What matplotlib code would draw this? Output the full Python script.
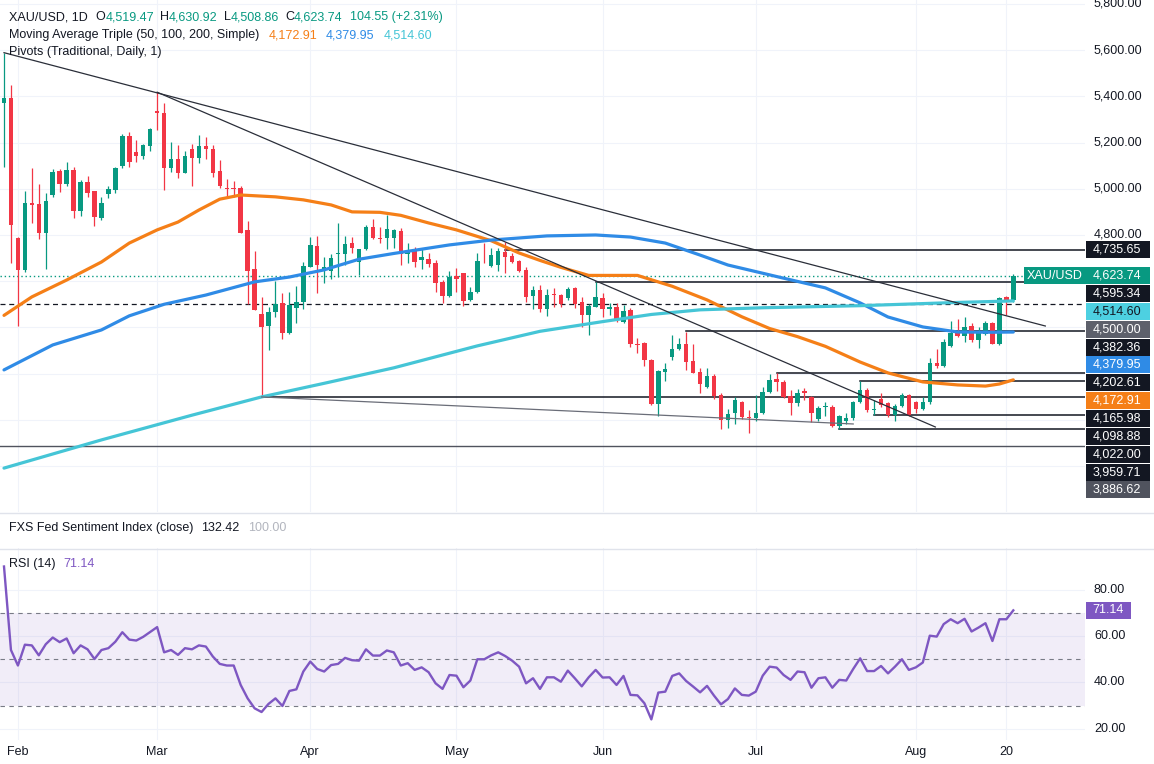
import matplotlib
matplotlib.use('Agg')
import matplotlib.pyplot as plt
import matplotlib.transforms as mtransforms
from matplotlib.patches import Rectangle
from matplotlib.lines import Line2D
import numpy as np
import pandas as pd

plt.rcParams['font.family'] = ['Liberation Sans', 'DejaVu Sans']

# ---------------- data ----------------
first_day = '2026-01-29'
last_day = '2026-08-21'
market_holidays = ['2026-04-03']
extra_tick_day = '2026-08-20'

opens = [5371, 5393, 4787, 4648, 4939, 4934, 4809, 4973, 5077, 5021,
         5081, 4904, 5029, 4990, 4874, 4977, 4995, 5099, 5229, 5159,
         5142, 5185, 5337, 5328, 5090, 5129, 5068, 5172, 5133, 5183,
         5171, 5077, 5003, 5002, 5002, 4822, 4651, 4458, 4407, 4467,
         4504, 4374, 4485, 4508, 4663, 4753, 4645, 4645, 4717, 4717,
         4764, 4682, 4738, 4834, 4788, 4786, 4786, 4819, 4718, 4738,
         4692, 4695, 4680, 4598, 4536, 4623, 4637, 4519, 4554, 4685,
         4666, 4671, 4728, 4709, 4688, 4649, 4536, 4562, 4478, 4543,
         4540, 4526, 4569, 4512, 4454, 4489, 4526, 4478, 4489, 4425,
         4475, 4328, 4331, 4259, 4068, 4208, 4271, 4305, 4328, 4256,
         4208, 4141, 4190, 4107, 3999, 4029, 4078, 4014, 4007, 4031,
         4122, 4175, 4165, 4103, 4074, 4125, 4100, 4002, 4054, 4057,
         3974, 3997, 4009, 4078, 4129, 4042, 4090, 4072, 4021, 4060,
         4107, 4078, 4046, 4075, 4244, 4233, 4320, 4385, 4363, 4406,
         4345, 4372, 4418, 4330, 4530, 4519.47]
highs = [5588, 5449, 4790, 4990, 5090, 5021, 4982, 5086, 5086, 5116,
         5094, 5038, 5055, 4990, 4965, 5012, 5094, 5237, 5246, 5211,
         5194, 5263, 5418, 5371, 5203, 5190, 5164, 5194, 5233, 5226,
         5190, 5125, 5042, 5034, 5012, 4862, 4732, 4533, 4490, 4602,
         4548, 4552, 4579, 4684, 4790, 4796, 4706, 4718, 4853, 4796,
         4793, 4740, 4843, 4868, 4836, 4887, 4825, 4829, 4767, 4749,
         4742, 4723, 4692, 4605, 4646, 4656, 4637, 4576, 4721, 4764,
         4742, 4742, 4771, 4721, 4692, 4663, 4580, 4584, 4565, 4569,
         4545, 4574, 4574, 4533, 4502, 4595, 4548, 4504, 4504, 4497,
         4483, 4353, 4338, 4262, 4216, 4244, 4367, 4353, 4382, 4328,
         4223, 4223, 4198, 4115, 4045, 4097, 4083, 4042, 4107, 4144,
         4198, 4202, 4172, 4129, 4132, 4137, 4104, 4060, 4078, 4064,
         4020, 4031, 4083, 4166, 4137, 4086, 4115, 4078, 4068, 4118,
         4112, 4083, 4100, 4266, 4305, 4348, 4429, 4435, 4444, 4420,
         4403, 4429, 4425, 4532, 4536, 4630.92]
lows = [5094, 4679, 4406, 4640, 4852, 4783, 4653, 4964, 4986, 5012,
        4874, 4883, 4964, 4839, 4865, 4960, 4982, 5090, 5094, 5116,
        5129, 5164, 5254, 4995, 5073, 5047, 5068, 5012, 5112, 5129,
        5052, 5003, 4966, 4966, 4807, 4501, 4475, 4099, 4302, 4446,
        4348, 4372, 4418, 4478, 4660, 4548, 4593, 4609, 4619, 4670,
        4721, 4627, 4736, 4781, 4767, 4738, 4742, 4670, 4678, 4663,
        4653, 4663, 4554, 4505, 4533, 4554, 4493, 4516, 4548, 4678,
        4663, 4646, 4637, 4678, 4641, 4512, 4478, 4468, 4450, 4489,
        4489, 4519, 4484, 4400, 4367, 4487, 4446, 4454, 4425, 4418,
        4314, 4288, 4233, 4064, 4018, 4169, 4259, 4302, 4216, 4201,
        4117, 4137, 4089, 3962, 3963, 3982, 4003, 3942, 3995, 4025,
        4118, 4126, 4094, 4020, 4059, 4086, 3990, 3995, 4016, 3970,
        3960, 3982, 3999, 4074, 4035, 4022, 4055, 4014, 3995, 4057,
        4016, 4029, 4042, 4068, 4223, 4230, 4317, 4357, 4338, 4338,
        4311, 4367, 4328, 4325, 4455, 4508.86]
closes = [5393, 4843, 4648, 4939, 4930, 4809, 4947, 5073, 5021, 5081,
          4904, 5029, 4982, 4878, 4939, 4999, 5090, 5229, 5116, 5142,
          5190, 5259, 5328, 5090, 5129, 5068, 5142, 5133, 5185, 5172,
          5070, 5012, 5001, 5000, 4810, 4645, 4475, 4403, 4467, 4502,
          4377, 4497, 4508, 4665, 4757, 4671, 4660, 4702, 4721, 4760,
          4742, 4738, 4836, 4786, 4784, 4825, 4820, 4718, 4732, 4685,
          4703, 4674, 4591, 4536, 4617, 4608, 4516, 4554, 4688, 4681,
          4714, 4732, 4706, 4685, 4645, 4533, 4562, 4478, 4540, 4540,
          4501, 4565, 4502, 4454, 4493, 4533, 4478, 4487, 4432, 4472,
          4328, 4324, 4259, 4068, 4213, 4218, 4305, 4328, 4252, 4204,
          4155, 4190, 4103, 3999, 4025, 4086, 4011, 4007, 4029, 4122,
          4172, 4165, 4098, 4071, 4118, 4118, 4029, 4050, 4060, 3974,
          4016, 4007, 4078, 4129, 4042, 4046, 4066, 4021, 4060, 4107,
          4021, 4046, 4075, 4244, 4233, 4338, 4377, 4363, 4400, 4345,
          4382, 4418, 4328, 4527, 4519.19, 4623.74]

rsi = [90.1, 54.0, 47.3, 56.3, 56.0, 51.7, 56.5, 59.4, 57.4, 59.0,
       52.6, 56.0, 54.3, 50.1, 54.0, 54.8, 57.6, 61.7, 58.5, 58.1,
       59.7, 61.8, 63.9, 53.0, 54.0, 51.9, 54.8, 54.3, 56.0, 55.5,
       51.2, 48.0, 47.3, 47.3, 38.9, 33.1, 28.8, 27.2, 30.7, 33.1,
       29.8, 36.3, 37.0, 44.7, 49.0, 45.8, 44.7, 47.5, 48.0, 50.6,
       49.6, 49.4, 54.3, 51.6, 51.6, 53.8, 53.0, 47.3, 48.3, 45.4,
       46.5, 44.4, 39.6, 37.2, 43.2, 42.9, 37.9, 40.8, 50.0, 50.0,
       51.7, 53.0, 51.4, 49.4, 46.8, 39.6, 41.8, 37.2, 42.2, 42.2,
       40.3, 45.1, 41.8, 38.3, 42.2, 45.4, 42.1, 42.2, 38.9, 42.8,
       34.6, 34.4, 31.0, 24.0, 35.6, 36.0, 42.8, 43.9, 40.6, 38.2,
       35.7, 38.5, 34.3, 30.5, 32.8, 37.4, 34.6, 34.3, 36.0, 42.9,
       46.8, 46.4, 43.2, 41.1, 44.7, 44.4, 37.7, 41.8, 42.2, 37.7,
       41.1, 40.8, 45.8, 50.4, 44.9, 44.9, 47.1, 43.9, 46.8, 50.0,
       45.4, 46.5, 48.6, 60.2, 59.8, 65.2, 67.3, 65.6, 67.5, 62.0,
       63.7, 65.6, 57.9, 67.3, 67.3, 71.14]

# moving averages, sampled at candle numbers
ma50_x = [0, 4, 9, 14, 18, 22, 25, 28, 31, 34, 39, 43, 47, 50, 54, 57, 61, 65, 70, 74,
          77, 80, 84, 91, 96, 101, 106, 110, 114, 118, 123, 127, 132, 137, 141, 143, 145]
ma50_y = [4452, 4532, 4605, 4683, 4765, 4822, 4856, 4908, 4955, 4973, 4965, 4952, 4930, 4900,
          4898, 4885, 4852, 4822, 4775, 4722, 4690, 4660, 4625, 4625, 4578, 4519, 4446, 4395,
          4360, 4318, 4250, 4203, 4164, 4151, 4146, 4155, 4172.91]
ma100_x = [0, 7, 14, 18, 23, 29, 36, 41, 46, 51, 56, 64, 70, 78, 85, 90, 95, 100, 104, 112,
           118, 123, 127, 132, 137, 142, 145]
ma100_y = [4216, 4324, 4389, 4450, 4500, 4540, 4597, 4618, 4649, 4695, 4720, 4757, 4778, 4796,
           4800, 4791, 4765, 4713, 4670, 4613, 4571, 4506, 4445, 4402, 4380, 4379, 4379.95]
ma200_x = [0, 14, 27, 37, 46, 56, 68, 77, 86, 93, 100, 109, 123, 137, 145]
ma200_y = [3791, 3913, 4020, 4099, 4158, 4225, 4320, 4383, 4425, 4456, 4476, 4485, 4494, 4508, 4514.6]

# trend lines: (start candle, start price, end candle, end price)
trend_lines = [(0, 5589, 149.6, 4406),
               (22, 5418, 133.8, 3969),
               (37, 4099, 122, 3982)]

# horizontal levels drawn from a candle to the right edge
level_prices = [4735.65, 4595.34, 4382.36, 4202.61, 4165.98, 4098.88, 4022.00, 3959.71]
level_start = [72, 85, 98, 111, 123, 37, 125, 120]
round_level = 4500.00
bottom_level = 3886.62
last_price = 4623.74

scale_prices = [4735.65, 4623.74, 4595.34, 4514.60, 4500.00, 4382.36, 4379.95,
                4202.61, 4172.91, 4165.98, 4098.88, 4022.00, 3959.71, 3886.62]
price_ticks = [3800, 4000, 4200, 4400, 4600, 4800, 5000, 5200, 5400, 5600, 5800]
rsi_ticks = [20, 40, 60, 80]

# ---------------- styles ----------------
DARK = '#131722'
UP, DOWN = '#089981', '#f23645'
C50, C100, C200 = '#f57f17', '#2f8be6', '#45c5d6'
PURPLE = '#7e57c2'
GRID = '#f0f3fa'
scale_box = [DARK, UP, DARK, '#4dd0e1', '#5d606b', DARK, C100,
             DARK, C50, DARK, DARK, DARK, DARK, '#50535e']
scale_txt = ['white', 'white', 'white', DARK, 'white', 'white', 'white',
             'white', 'white', 'white', 'white', 'white', 'white', 'white']
FS = 9

dates = pd.bdate_range(first_day, last_day).drop(pd.to_datetime(market_holidays))
idx = np.arange(len(opens))
tick_pos = [i for i in range(1, len(dates)) if dates[i].month != dates[i - 1].month]
tick_lab = [dates[i].strftime('%b') for i in tick_pos]
tick_pos.append(int(dates.get_loc(pd.Timestamp(extra_tick_day))))
tick_lab.append(str(pd.Timestamp(extra_tick_day).day))

W, H = 1154, 764
fig = plt.figure(figsize=(W / 100, H / 100), dpi=100)
fig.patch.set_facecolor('white')


def px_box(x0, y0, x1, y1):
    return [x0 / W, 1 - y1 / H, (x1 - x0) / W, (y1 - y0) / H]


ax = fig.add_axes(px_box(0, 0, 1085, 512))
sc = fig.add_axes(px_box(1085, 0, 1154, 512))
ax_r = fig.add_axes(px_box(0, 548, 1085, 740))
sc_r = fig.add_axes(px_box(1085, 548, 1154, 740))

p_lo, p_hi = 3601, 5817
r_lo, r_hi = 15.1, 98.1
x_lo, x_hi = -0.575, 155.3

for a in (ax, sc, ax_r, sc_r):
    for s in a.spines.values():
        s.set_visible(False)
    a.tick_params(length=0)
    a.set_facecolor('none')

ax.set_xlim(x_lo, x_hi)
ax.set_ylim(p_lo, p_hi)
ax_r.set_xlim(x_lo, x_hi)
ax_r.set_ylim(r_lo, r_hi)
sc.set_xlim(0, 69)
sc.set_ylim(p_lo, p_hi)
sc_r.set_xlim(0, 69)
sc_r.set_ylim(r_lo, r_hi)
sc.set_xticks([]); sc.set_yticks([])
sc_r.set_xticks([]); sc_r.set_yticks([])

# grids
ax.set_xticks(tick_pos)
ax.set_yticks(price_ticks)
ax.tick_params(labelbottom=False, labelleft=False)
ax.grid(color=GRID, lw=0.8)
ax.set_axisbelow(True)
ax_r.set_xticks(tick_pos)
ax_r.set_xticklabels(tick_lab)
ax_r.set_yticks(rsi_ticks)
ax_r.tick_params(axis='x', labelsize=FS, labelcolor=DARK, pad=4)
ax_r.tick_params(axis='y', labelleft=False)
ax_r.grid(color=GRID, lw=0.8)
ax_r.set_axisbelow(True)

# ---------------- price panel ----------------
o = np.array(opens); h = np.array(highs); l = np.array(lows); c = np.array(closes)
cols = np.where(c >= o, UP, DOWN)
ax.vlines(idx, l, h, colors=cols, lw=0.9, zorder=3)
ax.bar(idx, np.maximum(np.abs(c - o), 4), bottom=np.minimum(o, c), width=0.64,
       color=cols, lw=0, zorder=4)

for x0, y0, x1, y1 in trend_lines[:2]:
    ax.plot([x0, x1], [y0, y1], color='#2a2e39', lw=0.9, zorder=6)
x0, y0, x1, y1 = trend_lines[2]
ax.plot([x0, x1], [y0, y1], color='#6a6d78', lw=0.9, zorder=6)

for p, s in zip(level_prices, level_start):
    ax.plot([s, x_hi], [p, p], color=DARK, lw=1.1, zorder=2)
ax.axhline(round_level, color=DARK, lw=0.9, ls=(0, (4, 3)), zorder=2)
ax.axhline(bottom_level, color='#50535e', lw=1.0, zorder=2)
ax.axhline(last_price, color=UP, lw=1.0, ls=(0, (1, 2)), zorder=2)

ax.plot(ma50_x, ma50_y, color=C50, lw=2.3, zorder=5, solid_capstyle='round')
ax.plot(ma100_x, ma100_y, color=C100, lw=2.3, zorder=5, solid_capstyle='round')
ax.plot(ma200_x, ma200_y, color=C200, lw=2.3, zorder=5, solid_capstyle='round')

tr = mtransforms.blended_transform_factory(ax.transAxes, ax.transData)
ax.text(1083 / 1085, last_price, 'XAU/USD', transform=tr, ha='right', va='center',
        color='white', fontsize=FS, zorder=8,
        bbox=dict(boxstyle='square,pad=0.22', fc=UP, ec='none'))

# price scale labels, stacked so they do not overlap
ppx = 512 / (p_hi - p_lo)
step = 17.85 / ppx
half = 8.5 / ppx
prev = np.inf
label_ys = []
for p, fc, tc in zip(scale_prices, scale_box, scale_txt):
    y = min(p, prev - step)
    prev = y
    label_ys.append(y)
    sc.add_patch(Rectangle((1, y - half), 64, 2 * half, fc=fc, ec='none', zorder=3))
    sc.text(8, y, f'{p:,.2f}', color=tc, fontsize=FS, va='center', ha='left', zorder=4)
for t in price_ticks:
    if min(abs(t - y) for y in label_ys) * ppx > 13:
        sc.text(9, t, f'{t:,.2f}', color=DARK, fontsize=FS, va='center', ha='left', zorder=1)

# ---------------- RSI panel ----------------
ax_r.axhspan(30, 70, color=PURPLE, alpha=0.1, lw=0, zorder=1)
for lvl in (70, 50, 30):
    ax_r.axhline(lvl, color='#787b86', lw=0.8, ls=(0, (4, 4)), zorder=2)
ax_r.plot(idx, rsi, color=PURPLE, lw=1.7, zorder=4)

rpx = 192 / (r_hi - r_lo)
for t in rsi_ticks:
    sc_r.text(9, t, f'{t:.2f}', color=DARK, fontsize=FS, va='center', ha='left')
sc_r.add_patch(Rectangle((0.5, rsi[-1] - 8.5 / rpx), 45.5, 17 / rpx, fc=PURPLE, ec='none', zorder=3))
sc_r.text(7, rsi[-1], f'{rsi[-1]:.2f}', color='white', fontsize=FS, va='center', ha='left', zorder=4)

# panel separators
for yy in (512.5, 548.5):
    fig.add_artist(Line2D([0, 1], [1 - yy / H] * 2, transform=fig.transFigure,
                          color='#e0e3eb', lw=1))


# ---------------- legend texts ----------------
def label_row(host, parts, x, y):
    t = fig.text(x / W, 1 - y / H, parts[0][0], color=parts[0][1], fontsize=FS,
                 va='center', ha='left')
    for s, col, gap in parts[1:]:
        t = host.annotate(s, xy=(1, 0.5), xycoords=t, xytext=(gap, 0),
                          textcoords='offset pixels', color=col, fontsize=FS,
                          va='center', ha='left', zorder=9)


label_row(ax, [('XAU/USD, 1D', DARK, 0), ('O', DARK, 8), ('4,519.47', UP, 0),
               ('H', DARK, 6), ('4,630.92', UP, 0), ('L', DARK, 6), ('4,508.86', UP, 0),
               ('C', DARK, 6), ('4,623.74', UP, 0), ('104.55 (+2.31%)', UP, 7)], 9, 17)
label_row(ax, [('Moving Average Triple (50, 100, 200, Simple)', DARK, 0),
               ('4,172.91', C50, 9), ('4,379.95', C100, 9), ('4,514.60', C200, 9)], 9, 35)
label_row(ax, [('Pivots (Traditional, Daily, 1)', DARK, 0)], 9, 52)
label_row(ax_r, [('FXS Fed Sentiment Index (close)', DARK, 0), ('132.42', DARK, 8),
                 ('100.00', '#b2b5be', 8)], 9, 528)
label_row(ax_r, [('RSI (14)', DARK, 0), ('71.14', PURPLE, 8)], 9, 564)

plt.savefig('out.png', dpi=100, facecolor='white')
